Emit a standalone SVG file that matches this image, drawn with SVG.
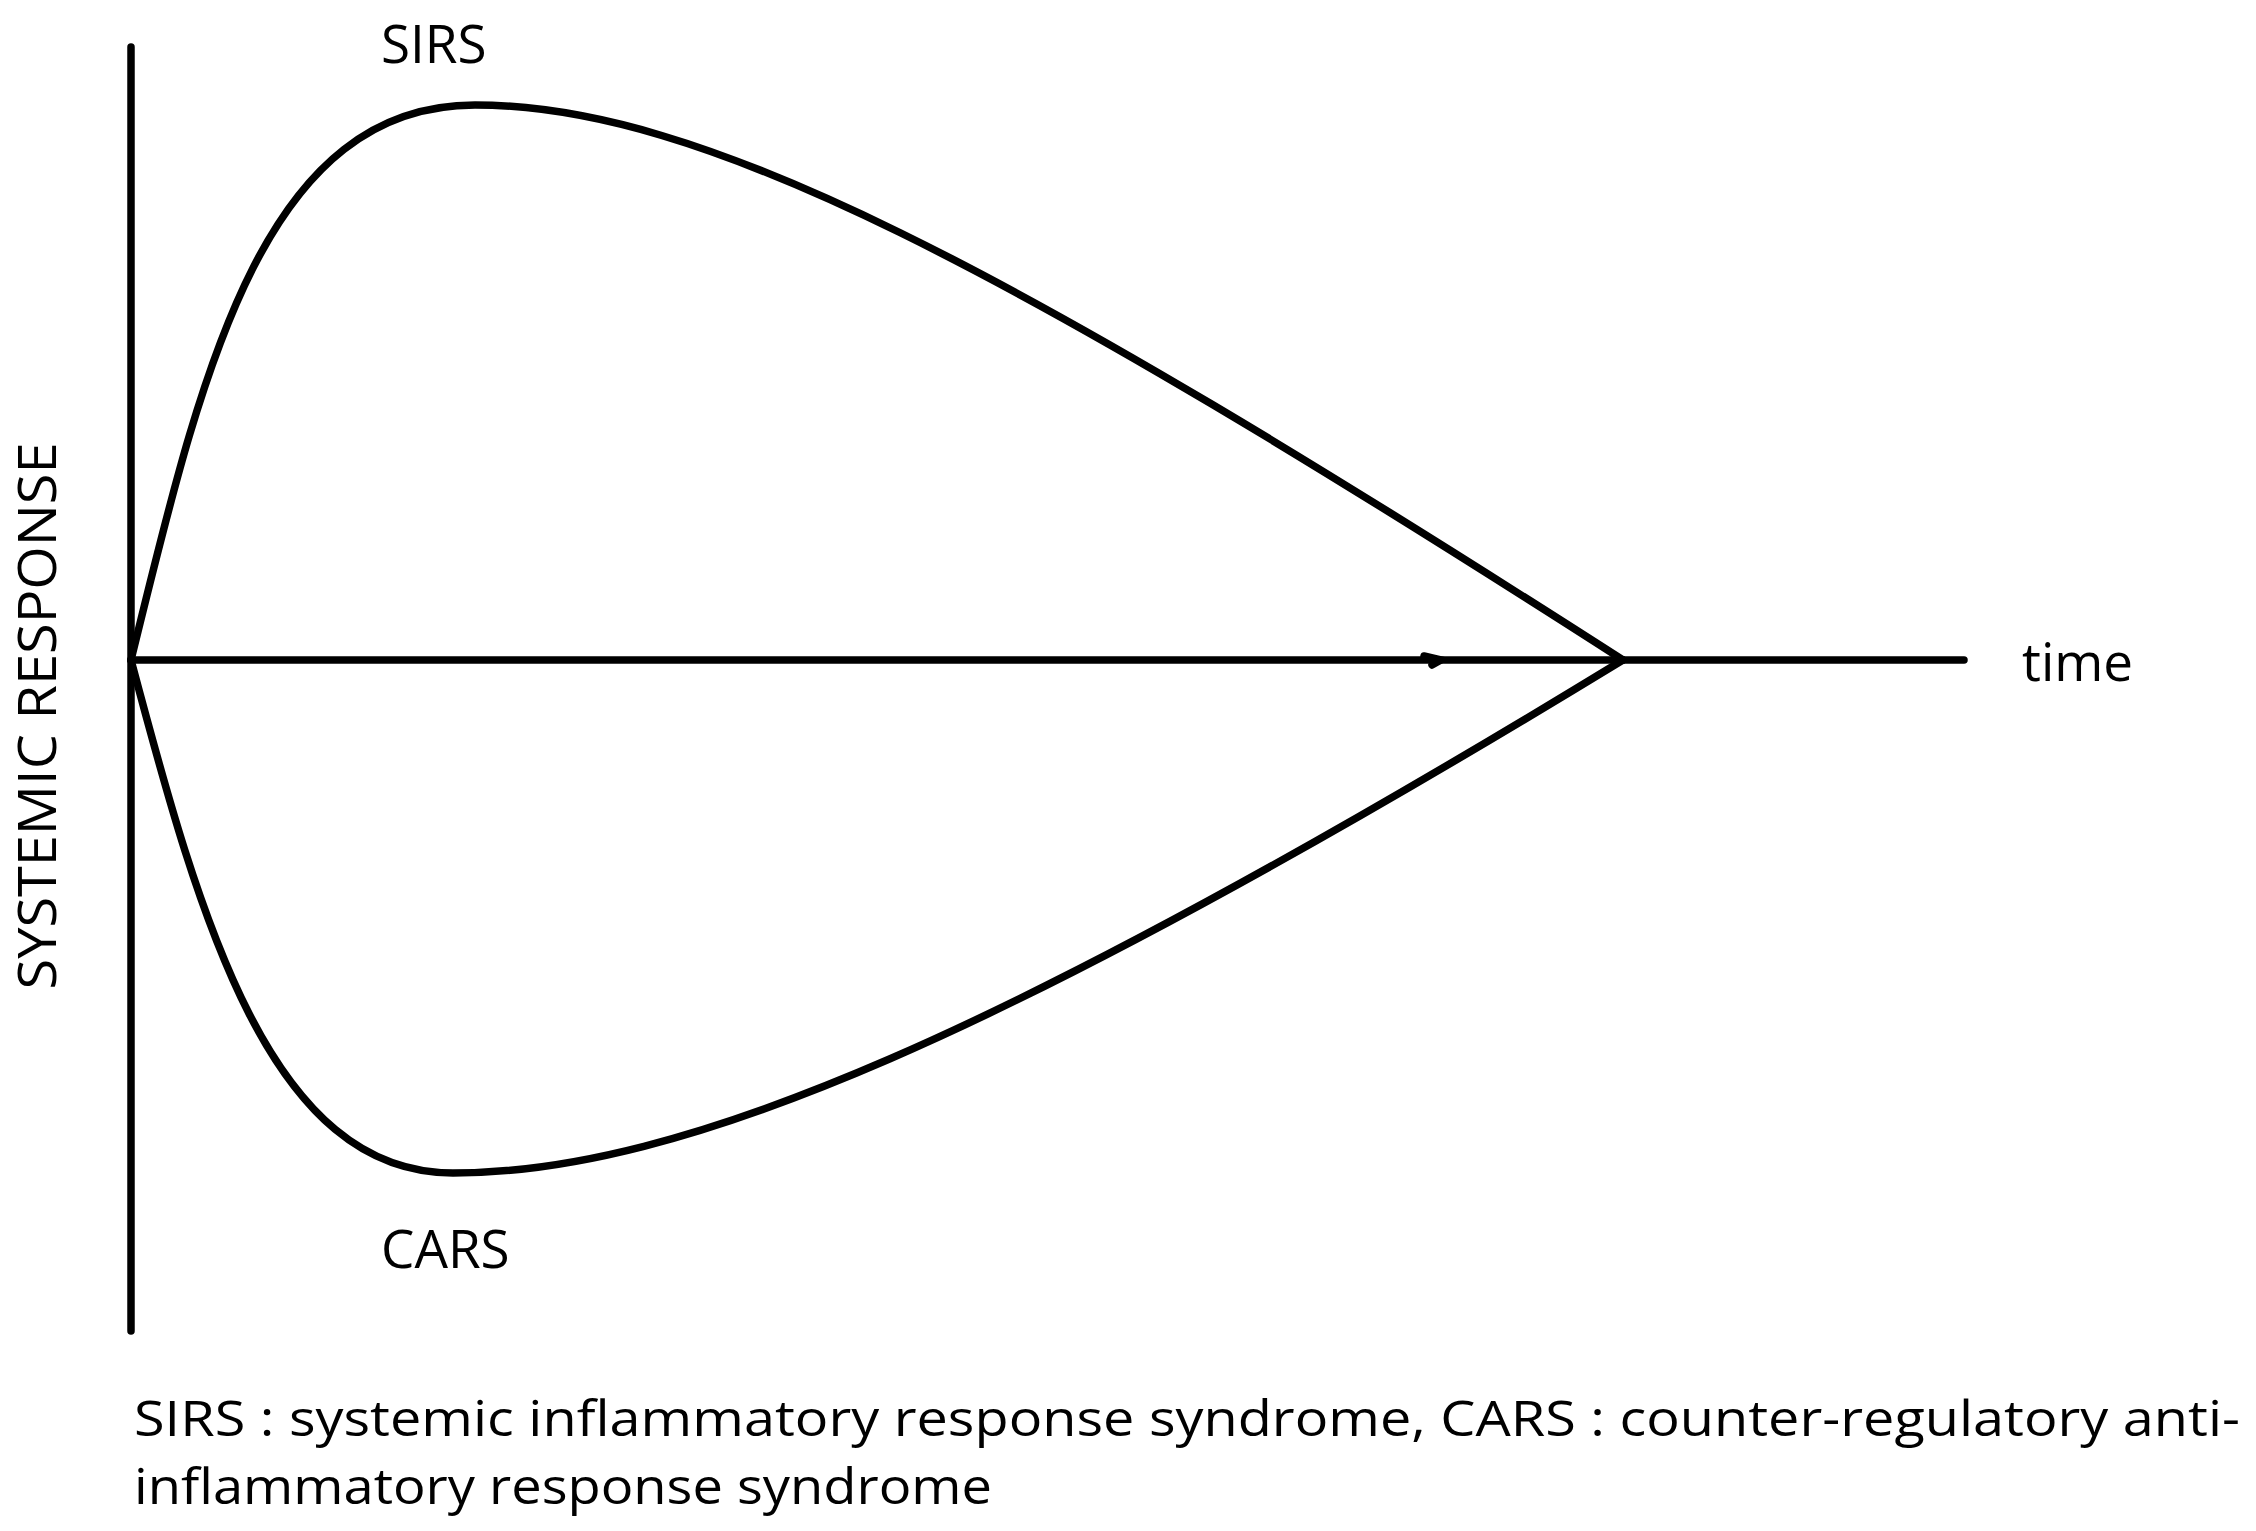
<svg xmlns="http://www.w3.org/2000/svg" width="2256" height="1531" viewBox="0 0 2256 1531">
<style>
.ln{fill:none;stroke:#000;stroke-width:7.5;stroke-linecap:round}
.t{font-family:"Open Sans","Liberation Sans",sans-serif;font-size:53px;fill:#000}
.c{font-size:50px}
</style>
<rect width="2256" height="1531" fill="#fff"/>
<g id="axes">
<line class="ln" x1="131" y1="47" x2="131" y2="1331"/>
<line class="ln" x1="131" y1="660" x2="1964" y2="660"/>
<path class="ln" stroke-width="3" d="M1424,656 L1441,660 L1432,665"/>
</g>
<g id="connectors">
<path id="sirs-curve" class="ln" d="M131,660 C200,380 260,105 475,105 C700,105 1000,260 1623,660"/>
<path id="cars-curve" class="ln" d="M131,660 C200,920 270,1173 453,1173 C680,1173 1000,1040 1623,660"/>
</g>
<g id="labels">
<text class="t" x="381" y="63">SIRS</text>
<text class="t" x="381" y="1268">CARS</text>
<text class="t" x="2022" y="681">time</text>
<text class="t" transform="translate(56,716) rotate(-90)" text-anchor="middle" textLength="547" lengthAdjust="spacingAndGlyphs">SYSTEMIC RESPONSE</text>
<text class="t c" x="134" y="1436" textLength="2106" lengthAdjust="spacingAndGlyphs">SIRS : systemic inflammatory response syndrome, CARS : counter-regulatory anti-</text>
<text class="t c" x="134" y="1504" textLength="858" lengthAdjust="spacingAndGlyphs">inflammatory response syndrome</text>
</g>
</svg>
